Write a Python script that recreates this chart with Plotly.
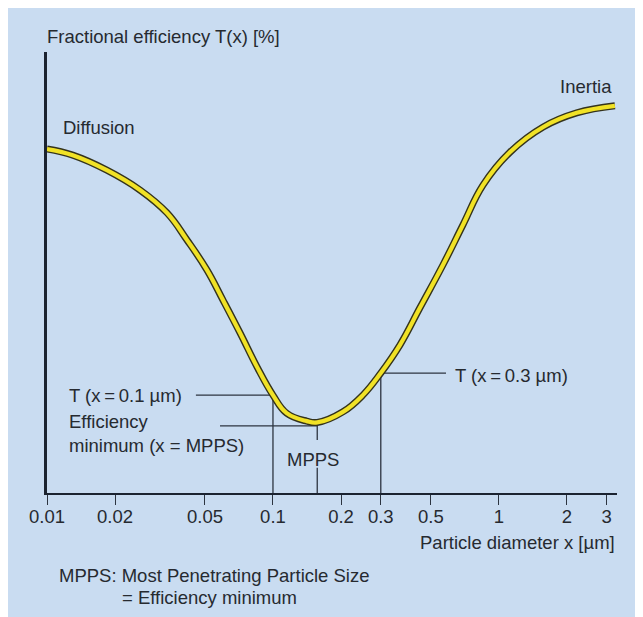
import numpy as np
import plotly.graph_objects as go

# ---- data ----
diameter_um = [0.01, 0.013, 0.0184, 0.0258, 0.034, 0.0416, 0.051, 0.060, 0.0715, 0.085,
               0.1, 0.115, 0.141, 0.157, 0.204, 0.25, 0.3, 0.365, 0.447, 0.565,
               0.693, 0.85, 1.12, 1.57, 2.21, 3.26]
efficiency = [78.0, 76.6, 73.2, 68.7, 63.5, 57.4, 50.6, 43.8, 36.3, 28.6,
              22.2, 18.1, 16.3, 16.0, 18.4, 22.2, 27.2, 33.6, 42.0, 51.7,
              60.8, 69.8, 77.3, 83.0, 86.2, 87.8]
tick_values = [0.01, 0.02, 0.05, 0.1, 0.2, 0.3, 0.5, 1, 2, 3]
tick_labels = ["0.01", "0.02", "0.05", "0.1", "0.2", "0.3", "0.5", "1", "2", "3"]

# ---- styling / layout constants ----
BG = "#c9dcf1"
INK = "#262a30"
LINE = "#2c3440"
FONT = "Arial, Liberation Sans, sans-serif"
FS = 18.5
X_MAX = 3.33
W, H = 635, 609          # page body has an 8px default margin
ML, MR, MT, MB = 39, 26, 44, 124

d = np.array(diameter_um)
e = np.array(efficiency)
i_min = int(np.argmin(e))
mpps_x, mpps_y = d[i_min], e[i_min]
t01_y = e[diameter_um.index(0.1)]
t03_y = e[diameter_um.index(0.3)]

fig = go.Figure()

def seg(xs, ys):
    fig.add_trace(go.Scatter(x=xs, y=ys, mode="lines",
                             line=dict(color=LINE, width=1.3),
                             hoverinfo="skip", showlegend=False))

# leader lines
seg([0.1, 0.1], [0, t01_y])
seg([0.0456, 0.1], [t01_y, t01_y])
seg([0.3, 0.3], [0, t03_y])
seg([0.3, 0.583], [t03_y, t03_y])
seg([0.0583, mpps_x], [mpps_y - 0.8, mpps_y - 0.8])
seg([mpps_x, mpps_x], [mpps_y, 12.0])
seg([mpps_x, mpps_x], [5.7, 0])

# curve: dark outline + yellow core
fig.add_trace(go.Scatter(x=diameter_um, y=efficiency, mode="lines",
                         line=dict(color="#34331c", width=7, shape="spline", smoothing=1.2),
                         hoverinfo="skip", showlegend=False))
fig.add_trace(go.Scatter(x=diameter_um, y=efficiency, mode="lines",
                         line=dict(color="#f1e226", width=4.2, shape="spline", smoothing=1.2),
                         hoverinfo="skip", showlegend=False))

def lg(v):
    return float(np.log10(v))

anns = [
    dict(x=lg(0.0115), y=82.8, text="Diffusion", xanchor="left"),
    dict(x=lg(1.82), y=92.1, text="Inertia", xanchor="left"),
    dict(x=lg(0.01226), y=t01_y, text="T (x\u2009=\u20090.1\u00a0\u00b5m)", xanchor="left"),
    dict(x=lg(0.01226), y=13.4, text="Efficiency<br>minimum (x = MPPS)", xanchor="left", align="left"),
    dict(x=lg(0.625), y=t03_y - 0.5, text="T (x\u2009=\u20090.3\u00a0\u00b5m)", xanchor="left"),
    dict(x=lg(0.151), y=7.5, text="MPPS", xanchor="center"),
]
for a in anns:
    a.update(xref="x", yref="y", yanchor="middle", showarrow=False,
             font=dict(family=FONT, size=FS, color=INK))
    fig.add_annotation(**a)

paper_anns = [
    dict(x=-0.004, y=(493 - 36) / 441, text="Fractional efficiency T(x) [%]", xanchor="left"),
    dict(x=1.0, y=(493 - 542) / 441, text="Particle diameter x [\u00b5m]", xanchor="right"),
    dict(x=(57 - 47) / 570, y=(493 - 575) / 441, text="MPPS: Most Penetrating Particle Size", xanchor="left"),
    dict(x=(120 - 47) / 570, y=(493 - 597) / 441, text="= Efficiency minimum", xanchor="left"),
]
for a in paper_anns:
    a.update(xref="paper", yref="paper", yanchor="middle", showarrow=False,
             font=dict(family=FONT, size=FS, color=INK))
    fig.add_annotation(**a)

fig.update_layout(
    width=W, height=H, autosize=False,
    margin=dict(l=ML, r=MR, t=MT, b=MB, pad=0),
    paper_bgcolor=BG, plot_bgcolor=BG,
    showlegend=False,
    font=dict(family=FONT, size=FS, color=INK),
)
fig.update_xaxes(type="log", range=[-2, lg(X_MAX)],
                 tickvals=tick_values, ticktext=tick_labels,
                 ticks="outside", ticklen=10, tickwidth=1.3, tickcolor=LINE,
                 ticklabelstandoff=-4,
                 showline=True, linecolor="#1b2330", linewidth=2.2,
                 showgrid=False, zeroline=False,
                 tickfont=dict(family=FONT, size=FS, color=INK))
fig.update_yaxes(range=[0, 100], showline=True, linecolor="#1b2330", linewidth=2.8,
                 showticklabels=False, ticks="", showgrid=False, zeroline=False)

fig.write_html("out.html")
